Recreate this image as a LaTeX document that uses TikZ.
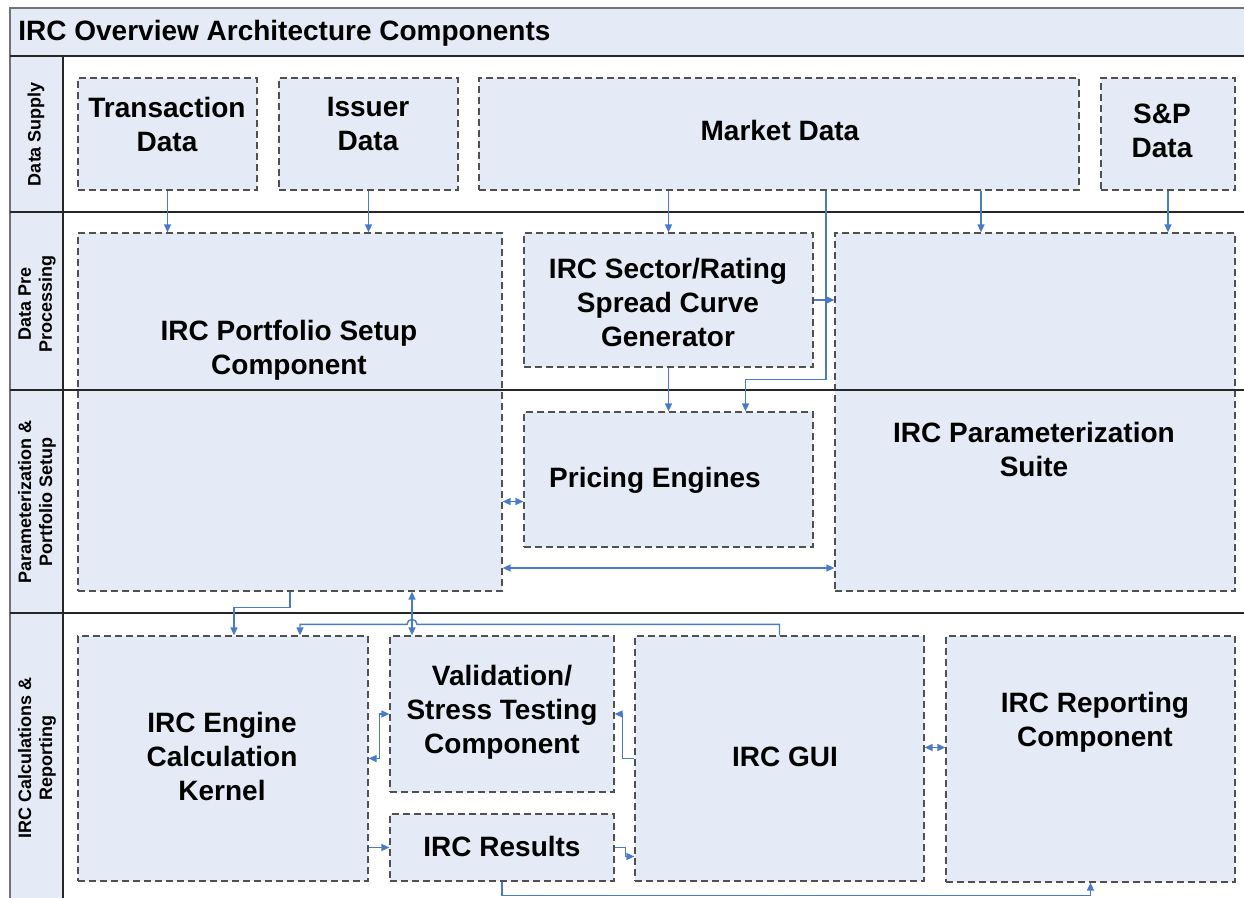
\documentclass[tikz,border=0pt]{standalone}
\usepackage{fontspec}
\setmainfont{Liberation Sans}
\usetikzlibrary{arrows.meta,calc}
\definecolor{boxfill}{HTML}{E5EBF6}
\definecolor{flowblue}{HTML}{4A7BC8}
\definecolor{dashgray}{HTML}{505050}
\begin{document}
\begin{tikzpicture}[x=0.5pt,y=-0.5pt,
    comp/.style={draw=dashgray, fill=boxfill, dash pattern=on 3.5pt off 2pt, line width=0.6pt, inner sep=0pt},
    txt/.style={font=\bfseries\fontsize{14}{17}\selectfont, align=center, inner sep=0pt},
    lanetxt/.style={font=\bfseries\fontsize{9}{10.5}\selectfont, align=center, rotate=90, inner sep=0pt},
    flow/.style={draw=flowblue, line width=0.7pt, -{Triangle[length=4pt,width=3.5pt]}},
    flowboth/.style={flow, {Triangle[length=4pt,width=3.5pt]}-{Triangle[length=4pt,width=3.5pt]}},
    lane/.style={line width=0.8pt, draw=black!85}]
  \useasboundingbox (0,0) rectangle (1244,898);
  \fill[white] (0,0) rectangle (1244,898);
  \fill[boxfill] (10,8) rectangle (1250,56);
  \fill[boxfill] (10,56) rectangle (63,905);
  \draw[lane, draw=black!55] (10,905) -- (10,8) -- (1250,8);
  \node[txt, anchor=west] (title) at (18,33) {IRC Overview Architecture Components};
  \node[lanetxt] (lsupply) at (36,134) {Data Supply};
  \node[lanetxt] (lpre) at (37,304) {Data Pre\\Processing};
  \node[lanetxt] (lparam) at (37,502) {Parameterization \&\\Portfolio Setup};
  \node[lanetxt] (lcalc) at (37,758) {IRC Calculations \&\\Reporting};
  % components
  \node[comp, minimum width=89.5pt, minimum height=56pt] (trans) at (167.5,134) {};
  \node[comp, minimum width=89.5pt, minimum height=56pt] (issuer) at (368.5,134) {};
  \node[comp, minimum width=300pt, minimum height=56pt] (market) at (779,134) {};
  \node[comp, minimum width=67pt, minimum height=56pt] (sp) at (1168,134) {};
  \node[comp, minimum width=212pt, minimum height=179pt] (portfolio) at (290,412) {};
  \node[comp, minimum width=144.5pt, minimum height=67pt] (sector) at (668.5,300) {};
  \node[comp, minimum width=200pt, minimum height=179pt] (suite) at (1035,412) {};
  \node[comp, minimum width=144.5pt, minimum height=67.5pt] (pricing) at (668.5,479.5) {};
  \node[comp, minimum width=145pt, minimum height=122.5pt] (engine) at (223,758.5) {};
  \node[comp, minimum width=112pt, minimum height=78pt] (valid) at (502,714) {};
  \node[comp, minimum width=112pt, minimum height=33.5pt] (results) at (502,847.5) {};
  \node[comp, minimum width=144.5pt, minimum height=122.5pt] (gui) at (779.5,758.5) {};
  \node[comp, minimum width=144.5pt, minimum height=123pt] (report) at (1090.5,759) {};
  % lanes
  \draw[lane] (10,56) -- (1250,56);
  \draw[lane] (10,212) -- (1250,212);
  \draw[lane] (10,390) -- (1250,390);
  \draw[lane] (10,613) -- (1250,613);
  \draw[lane] (63,56) -- (63,905);
  % texts
  \node[txt] (transtxt) at (167,124) {Transaction\\Data};
  \node[txt] (issuertxt) at (368,124) {Issuer\\Data};
  \node[txt] (markettxt) at (780,130) {Market Data};
  \node[txt] (sptxt) at (1162,131) {S\&P\\Data};
  \node[txt] (portfoliotxt) at (289,350) {IRC Portfolio Setup\\Component};
  \node[txt] (sectortxt) at (668,302) {IRC Sector/Rating\\Spread Curve\\Generator};
  \node[txt] (suitetxt) at (1034,449) {IRC Parameterization\\Suite};
  \node[txt] (pricingtxt) at (655,480) {Pricing Engines};
  \node[txt] (enginetxt) at (222,756) {IRC Engine\\Calculation\\Kernel};
  \node[txt] (validtxt) at (502,712) {Validation/\\Stress Testing\\Component};
  \node[txt] (resultstxt) at (502,846) {IRC Results};
  \node[txt] (guitxt) at (785,757) {IRC GUI};
  \node[txt] (reporttxt) at (1095,722) {IRC Reporting\\Component};
  % connectors
  \draw[flow] (trans.south) -- (trans.south |- portfolio.north);
  \draw[flow] (issuer.south) -- (issuer.south |- portfolio.north);
  \draw[flow] (sector.north |- market.south) -- (sector.north);
  \draw[flow] ($(market.south)+(202,0)$) coordinate (mt) -- (mt |- suite.north);
  \draw[flow] (sp.south) -- (sp.south |- suite.north);
  \draw[flow] ($(market.south)+(47,0)$) |- ($(sector.south)+(77,12)$) -- ($(pricing.north)+(77,0)$);
  \draw[flow] (sector.east) -- (sector.east -| suite.west);
  \draw[flow] (sector.south) -- (pricing.north);
  \draw[flowboth] ($(pricing.west)+(0,22)$) coordinate (pe) -- (pe -| portfolio.east);
  \draw[flowboth] ($(suite.west)+(0,156)$) coordinate (se) -- (se -| portfolio.east);
  \draw[flow] (portfolio.south) |- ($(engine.north)+(11,-28)$) -- ($(engine.north)+(11,0)$);
  \draw[flowboth] ($(valid.north)+(-90,0)$) coordinate (vn) -- (vn |- portfolio.south);
  \draw[flow] (gui.north) -- ++(0,-11) -- ($(vn)+(5,-11)$) arc[start angle=0, end angle=-180, radius=5]
    -- ($(engine.north)+(77,-11)$) -- ($(engine.north)+(77,0)$);
  \draw[flowboth] (engine.east) -- ++(11,0) |- (valid.west);
  \draw[flow] (results.west -| engine.east) -- (results.west);
  \draw[flow] (results.east) -- ++(11,0) |- ($(gui.west)+(0,98)$);
  \draw[flow] (results.south) -- ++(0,14) -| (report.south);
  \draw[flow] (gui.west) -- ++(-12,0) |- (valid.east);
  \draw[flowboth] ($(gui.east)+(0,-11)$) coordinate (ge) -- (ge -| report.west);
\end{tikzpicture}
\end{document}
